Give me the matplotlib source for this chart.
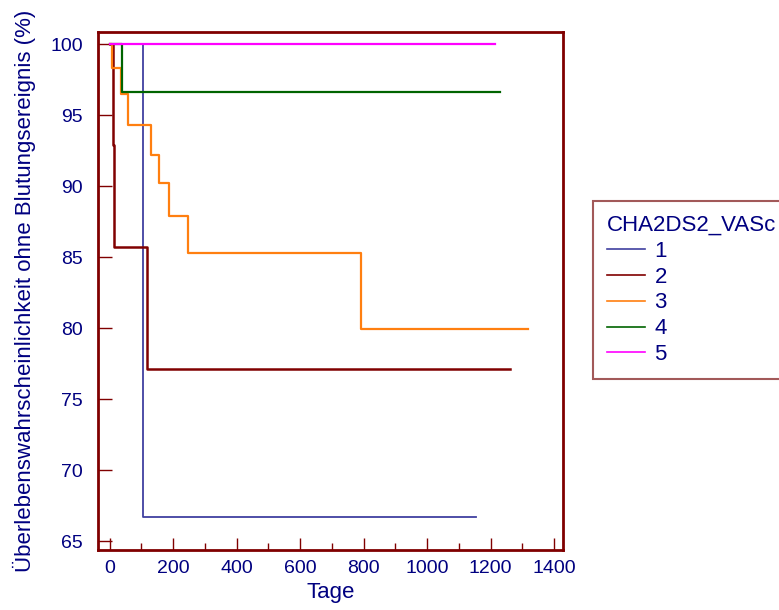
import matplotlib.pyplot as plt
from matplotlib.ticker import MultipleLocator

plt.rcParams['font.family'] = ['Liberation Sans', 'DejaVu Sans']

# Kaplan-Meier steps (days, survival %)
t1 = [0, 105, 1154]
s1 = [100, 66.7, 66.7]
t2 = [0, 9, 14, 116, 1261]
s2 = [100, 92.9, 85.7, 77.1, 77.1]
t3 = [0, 8, 36, 59, 129, 155, 187, 247, 792, 1318]
s3 = [100, 98.3, 96.5, 94.3, 92.2, 90.2, 87.9, 85.3, 79.9, 79.9]
t4 = [0, 40, 1230]
s4 = [100, 96.6, 96.6]
t5 = [0, 1214]
s5 = [100, 100]

groups = ['1', '2', '3', '4', '5']
colors = ['#4040a0', '#800000', '#ff7f10', '#006400', '#ff00ff']
widths = [1.3, 1.8, 1.6, 1.6, 1.6]

navy = '#000080'
frame = '#800000'

fig = plt.figure(figsize=(7.79, 6.10), dpi=100)
ax = fig.add_axes([98/779, 1 - 550/610, (563 - 98)/779, (550 - 32)/610])

for t, s, c, w, g in zip([t1, t2, t3, t4, t5], [s1, s2, s3, s4, s5], colors, widths, groups):
    ax.step(t, s, where='post', color=c, lw=w, label=g)

ax.set_xlim(-37, 1428)
ax.set_ylim(64.37, 100.85)
ax.xaxis.set_major_locator(MultipleLocator(200))
ax.xaxis.set_minor_locator(MultipleLocator(100))
ax.yaxis.set_major_locator(MultipleLocator(5))

ax.tick_params(axis='both', which='both', direction='in', color=frame,
               labelcolor=navy, labelsize=14, width=1)
ax.tick_params(axis='x', which='major', length=9, pad=7)
ax.tick_params(axis='x', which='minor', length=5)
ax.tick_params(axis='y', which='major', length=10, pad=11)

for sp in ax.spines.values():
    sp.set_color(frame)
    sp.set_linewidth(2)

ax.set_xlabel('Tage', color=navy, fontsize=16, labelpad=4)
ax.set_ylabel('Überlebenswahrscheinlichkeit ohne Blutungsereignis (%)',
              color=navy, fontsize=16, labelpad=10)

leg = fig.legend(loc='upper left', bbox_to_anchor=(593/779, 1 - 201/610),
                 borderaxespad=0, title='CHA2DS2_VASc', title_fontsize=16,
                 fontsize=16, frameon=True, fancybox=False,
                 handlelength=1.7, handletextpad=0.45, labelspacing=0.22,
                 borderpad=0.62)
leg._legend_box.align = 'left'
leg.get_title().set_color(navy)
for txt in leg.get_texts():
    txt.set_color(navy)
for ln in leg.get_lines():
    ln.set_linewidth(1.2)
leg.get_frame().set_edgecolor('#8b3030')
leg.get_frame().set_linewidth(1.5)

fig.savefig('out.png', dpi=100)
